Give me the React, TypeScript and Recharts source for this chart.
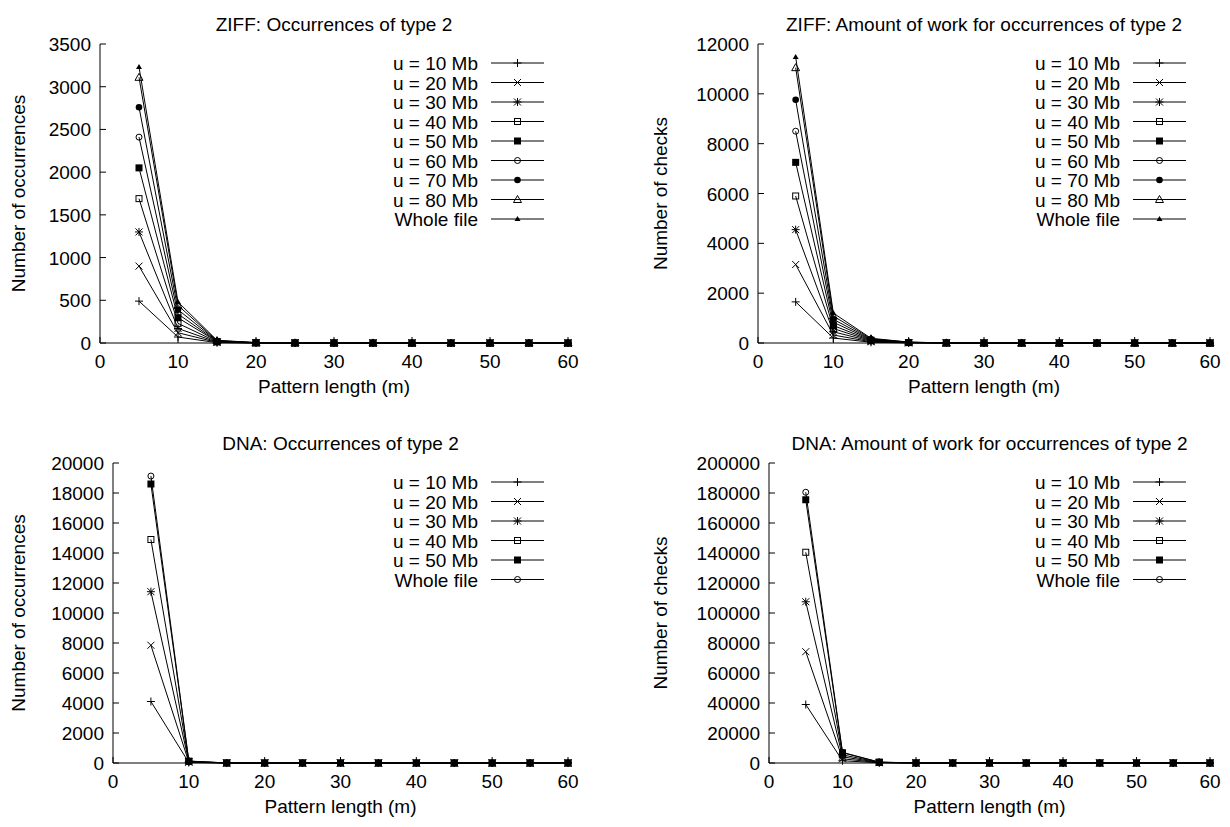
import React from 'react';
import { LineChart, Line, XAxis, YAxis } from 'recharts';

const FONT = '"Liberation Sans", Arial, Helvetica, sans-serif';
const FS = 19;

const mValues = [5, 10, 15, 20, 25, 30, 35, 40, 45, 50, 55, 60];
const xTicks = [0, 10, 20, 30, 40, 50, 60];

const ziffLabels = ['u = 10 Mb', 'u = 20 Mb', 'u = 30 Mb', 'u = 40 Mb', 'u = 50 Mb', 'u = 60 Mb', 'u = 70 Mb', 'u = 80 Mb', 'Whole file'];
const ziffMarkers = ['plus', 'cross', 'star', 'boxOpen', 'boxFilled', 'circleOpen', 'circleFilled', 'triOpen', 'triSmall'];
const dnaLabels = ['u = 10 Mb', 'u = 20 Mb', 'u = 30 Mb', 'u = 40 Mb', 'u = 50 Mb', 'Whole file'];
const dnaMarkers = ['plus', 'cross', 'star', 'boxOpen', 'boxFilled', 'circleOpen'];

// ZIFF: occurrences of type 2 (one row per series, values at m = 5..60)
const ziffOccurrences = [
  [490, 70, 4, 1, 0, 0, 0, 0, 0, 0, 0, 0],
  [900, 120, 7, 1, 0, 0, 0, 0, 0, 0, 0, 0],
  [1300, 170, 10, 2, 1, 0, 0, 0, 0, 0, 0, 0],
  [1690, 230, 13, 2, 1, 0, 0, 0, 0, 0, 0, 0],
  [2050, 295, 17, 3, 1, 1, 0, 0, 0, 0, 0, 0],
  [2410, 340, 20, 3, 1, 1, 0, 0, 0, 0, 0, 0],
  [2760, 390, 24, 4, 1, 1, 1, 0, 0, 0, 0, 0],
  [3110, 440, 28, 4, 2, 1, 1, 0, 0, 0, 0, 0],
  [3230, 480, 32, 5, 2, 1, 1, 0, 0, 0, 0, 0],
];

// ZIFF: amount of work
const ziffWork = [
  [1650, 200, 30, 5, 1, 1, 0, 0, 0, 0, 0, 0],
  [3150, 320, 50, 8, 2, 1, 1, 0, 0, 0, 0, 0],
  [4550, 450, 70, 12, 2, 1, 1, 0, 0, 0, 0, 0],
  [5900, 580, 90, 16, 3, 1, 1, 1, 0, 0, 0, 0],
  [7250, 700, 110, 20, 3, 2, 1, 1, 0, 0, 0, 0],
  [8500, 830, 130, 24, 4, 2, 1, 1, 0, 0, 0, 0],
  [9760, 950, 150, 28, 4, 2, 1, 1, 1, 0, 0, 0],
  [11050, 1080, 170, 32, 5, 2, 1, 1, 1, 0, 0, 0],
  [11480, 1200, 190, 36, 5, 3, 2, 1, 1, 0, 0, 0],
];

// DNA: occurrences of type 2
const dnaOccurrences = [
  [4100, 30, 1, 0, 0, 0, 0, 0, 0, 0, 0, 0],
  [7850, 55, 1, 0, 0, 0, 0, 0, 0, 0, 0, 0],
  [11420, 80, 2, 0, 0, 0, 0, 0, 0, 0, 0, 0],
  [14900, 100, 2, 0, 0, 0, 0, 0, 0, 0, 0, 0],
  [18600, 125, 3, 0, 0, 0, 0, 0, 0, 0, 0, 0],
  [19130, 130, 3, 0, 0, 0, 0, 0, 0, 0, 0, 0],
];

// DNA: amount of work
const dnaWork = [
  [39000, 1500, 150, 10, 1, 0, 0, 0, 0, 0, 0, 0],
  [74200, 2800, 250, 15, 2, 0, 0, 0, 0, 0, 0, 0],
  [107500, 4100, 350, 20, 2, 0, 0, 0, 0, 0, 0, 0],
  [140500, 5400, 450, 25, 3, 0, 0, 0, 0, 0, 0, 0],
  [175500, 6800, 550, 30, 3, 0, 0, 0, 0, 0, 0, 0],
  [180500, 7100, 600, 32, 4, 0, 0, 0, 0, 0, 0, 0],
];

const ziffOccTicks = [0, 500, 1000, 1500, 2000, 2500, 3000, 3500];
const ziffWorkTicks = [0, 2000, 4000, 6000, 8000, 10000, 12000];
const dnaOccTicks = [0, 2000, 4000, 6000, 8000, 10000, 12000, 14000, 16000, 18000, 20000];
const dnaWorkTicks = [0, 20000, 40000, 60000, 80000, 100000, 120000, 140000, 160000, 180000, 200000];

function Marker({ type, cx, cy }: { type: string; cx: number; cy: number }) {
  const s = '#000';
  switch (type) {
    case 'plus':
      return <path d={`M${cx - 4},${cy}H${cx + 4}M${cx},${cy - 4}V${cy + 4}`} stroke={s} strokeWidth={1} fill="none" />;
    case 'cross':
      return <path d={`M${cx - 3.5},${cy - 3.5}L${cx + 3.5},${cy + 3.5}M${cx - 3.5},${cy + 3.5}L${cx + 3.5},${cy - 3.5}`} stroke={s} strokeWidth={1} fill="none" />;
    case 'star':
      return <path d={`M${cx - 4},${cy}H${cx + 4}M${cx},${cy - 4}V${cy + 4}M${cx - 3.5},${cy - 3.5}L${cx + 3.5},${cy + 3.5}M${cx - 3.5},${cy + 3.5}L${cx + 3.5},${cy - 3.5}`} stroke={s} strokeWidth={1} fill="none" />;
    case 'boxOpen':
      return <rect x={cx - 3} y={cy - 3} width={6} height={6} stroke={s} strokeWidth={1} fill="none" />;
    case 'boxFilled':
      return <rect x={cx - 3.5} y={cy - 3.5} width={7} height={7} fill={s} />;
    case 'circleOpen':
      return <circle cx={cx} cy={cy} r={3} stroke={s} strokeWidth={1} fill="none" />;
    case 'circleFilled':
      return <circle cx={cx} cy={cy} r={3.3} fill={s} />;
    case 'triOpen':
      return <path d={`M${cx},${cy - 4}L${cx + 4},${cy + 3}L${cx - 4},${cy + 3}Z`} stroke={s} strokeWidth={1} fill="none" />;
    case 'triSmall':
      return <path d={`M${cx},${cy - 3}L${cx + 3},${cy + 2}L${cx - 3},${cy + 2}Z`} fill={s} />;
    default:
      return null;
  }
}

const BottomTick = (p: any) => (
  <g>
    <line x1={p.x} x2={p.x} y1={p.y} y2={p.y - 6} stroke="#000" />
    <text x={p.x} y={p.y + 25} textAnchor="middle" fontSize={FS} fontFamily={FONT} fill="#000">{p.payload.value}</text>
  </g>
);
const TopTick = (p: any) => <line x1={p.x} x2={p.x} y1={p.y} y2={p.y + 6} stroke="#000" />;
const LeftTick = (p: any) => (
  <g>
    <line x1={p.x} x2={p.x + 6} y1={p.y} y2={p.y} stroke="#000" />
    <text x={p.x - 9} y={p.y + 7} textAnchor="end" fontSize={FS} fontFamily={FONT} fill="#000">{p.payload.value}</text>
  </g>
);
const RightTick = (p: any) => <line x1={p.x} x2={p.x - 6} y1={p.y} y2={p.y} stroke="#000" />;

type Cfg = {
  left: number; top: number;
  plotLeft: number; plotRight: number; plotTop: number; plotBottom: number;
  title: string; yTitle: string; yTitleX: number;
  yTicks: number[]; series: number[][]; labels: string[]; markers: string[];
};

const W = 615;
const H = 413;

function Panel({ cfg }: { cfg: Cfg }) {
  const data = mValues.map((m, i) => {
    const row: any = { m };
    cfg.series.forEach((s, j) => { row['s' + j] = s[i]; });
    return row;
  });
  const yMax = cfg.yTicks[cfg.yTicks.length - 1];
  const midY = (cfg.plotTop + cfg.plotBottom) / 2;
  const midX = (cfg.plotLeft + cfg.plotRight) / 2;
  return (
    <div style={{ position: 'absolute', left: cfg.left, top: cfg.top, width: W, height: H }}>
      <LineChart width={W} height={H} data={data}
        margin={{ top: cfg.plotTop, right: W - cfg.plotRight, bottom: H - cfg.plotBottom - 30, left: cfg.plotLeft - 60 }}>
        <XAxis xAxisId="b" dataKey="m" type="number" domain={[0, 60]} ticks={xTicks} interval={0} height={30}
          tickSize={0} tickMargin={0} tickLine={false} axisLine={{ stroke: '#000' }} tick={BottomTick} />
        <XAxis xAxisId="t" orientation="top" dataKey="m" type="number" domain={[0, 60]} ticks={xTicks} interval={0} height={0}
          tickSize={0} tickMargin={0} tickLine={false} axisLine={{ stroke: '#000' }} tick={TopTick} />
        <YAxis yAxisId="l" type="number" domain={[0, yMax]} ticks={cfg.yTicks} interval={0} width={60}
          tickSize={0} tickMargin={0} tickLine={false} axisLine={{ stroke: '#000' }} tick={LeftTick} />
        <YAxis yAxisId="r" orientation="right" type="number" domain={[0, yMax]} ticks={cfg.yTicks} interval={0} width={0}
          tickSize={0} tickMargin={0} tickLine={false} axisLine={{ stroke: '#000' }} tick={RightTick} />
        {cfg.series.map((_, j) => (
          <Line key={j} xAxisId="b" yAxisId="l" dataKey={'s' + j} name={cfg.labels[j]} stroke="#000" strokeWidth={1}
            isAnimationActive={false} activeDot={false}
            dot={(p: any) => <Marker key={`d${j}-${p.index}`} type={cfg.markers[j]} cx={p.cx} cy={p.cy} />} />
        ))}
      </LineChart>
      <svg width={W} height={H} style={{ position: 'absolute', left: 0, top: 0, pointerEvents: 'none' }}>
        <text x={midX} y={cfg.plotTop - 13} textAnchor="middle" fontSize={FS} fontFamily={FONT}>{cfg.title}</text>
        <text x={midX} y={cfg.plotBottom + 50} textAnchor="middle" fontSize={FS} fontFamily={FONT}>Pattern length (m)</text>
        <text x={cfg.yTitleX} y={midY} textAnchor="middle" fontSize={FS} fontFamily={FONT}
          transform={`rotate(-90 ${cfg.yTitleX} ${midY})`} dominantBaseline="central">{cfg.yTitle}</text>
        {cfg.labels.map((lab, j) => {
          const cy = cfg.plotTop + 19 + 19.5 * j;
          return (
            <g key={lab}>
              <text x={cfg.plotRight - 90} y={cy + 7} textAnchor="end" fontSize={FS} fontFamily={FONT}>{lab}</text>
              <line x1={cfg.plotRight - 77} x2={cfg.plotRight - 24} y1={cy} y2={cy} stroke="#000" />
              <Marker type={cfg.markers[j]} cx={cfg.plotRight - 50.5} cy={cy} />
            </g>
          );
        })}
      </svg>
    </div>
  );
}

const panels: Cfg[] = [
  { left: 0, top: 0, plotLeft: 100, plotRight: 568, plotTop: 44, plotBottom: 343,
    title: 'ZIFF: Occurrences of type 2', yTitle: 'Number of occurrences', yTitleX: 18,
    yTicks: ziffOccTicks, series: ziffOccurrences, labels: ziffLabels, markers: ziffMarkers },
  { left: 615, top: 0, plotLeft: 143, plotRight: 595, plotTop: 44, plotBottom: 343,
    title: 'ZIFF: Amount of work for occurrences of type 2', yTitle: 'Number of checks', yTitleX: 45,
    yTicks: ziffWorkTicks, series: ziffWork, labels: ziffLabels, markers: ziffMarkers },
  { left: 0, top: 413, plotLeft: 113, plotRight: 568, plotTop: 50, plotBottom: 350,
    title: 'DNA: Occurrences of type 2', yTitle: 'Number of occurrences', yTitleX: 18,
    yTicks: dnaOccTicks, series: dnaOccurrences, labels: dnaLabels, markers: dnaMarkers },
  { left: 615, top: 413, plotLeft: 154, plotRight: 595, plotTop: 50, plotBottom: 350,
    title: 'DNA: Amount of work for occurrences of type 2', yTitle: 'Number of checks', yTitleX: 45,
    yTicks: dnaWorkTicks, series: dnaWork, labels: dnaLabels, markers: dnaMarkers },
];

export default function App() {
  return (
    <div style={{ position: 'absolute', left: 0, top: 0, width: 1230, height: 827, background: '#fff', fontFamily: FONT }}>
      {panels.map((c, i) => <Panel key={i} cfg={c} />)}
    </div>
  );
}
